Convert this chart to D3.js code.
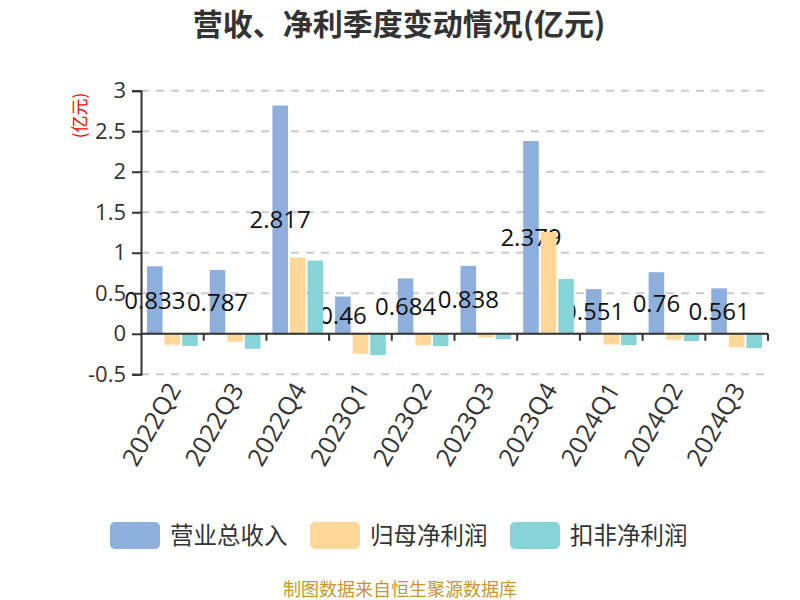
<!DOCTYPE html>
<html><head><meta charset="utf-8">
<script src="https://cdn.jsdelivr.net/npm/d3@7"></script>
<style>body{margin:0;background:#fff}svg{display:block}</style>
</head><body><svg id="c" width="800" height="600"></svg>
<script>
const categories = ["2022Q2","2022Q3","2022Q4","2023Q1","2023Q2","2023Q3","2023Q4","2024Q1","2024Q2","2024Q3"];
const revenue = [0.833,0.787,2.817,0.46,0.684,0.838,2.379,0.551,0.76,0.561];
const netProfit = [-0.135,-0.10,0.943,-0.246,-0.14,-0.045,1.256,-0.132,-0.074,-0.165];
const deductedProfit = [-0.15,-0.185,0.903,-0.263,-0.152,-0.066,0.677,-0.14,-0.09,-0.177];
const seriesNames = ["营业总收入","归母净利润","扣非净利润"];
const colors = ["#8eaedb","#ffd899","#86d4d7"];
const yTicks = [-0.5,0,0.5,1,1.5,2,2.5,3];
const titleText = "营收、净利季度变动情况(亿元)";
const unitText = "(亿元)";
const footerText = "制图数据来自恒生聚源数据库";

const seriesData = [revenue, netProfit, deductedProfit];
const svg = d3.select("#c");
const numFont = "'Open Sans','Noto Sans CJK SC',sans-serif";
const cjkFont = "'Noto Sans CJK SC','Noto Sans',sans-serif";

const gLeft = 141, gRight = 768, gTop = 90.7, gBottom = 374.3;
const x = d3.scaleBand().domain(categories).range([gLeft, gRight]);
const xs = d3.scaleBand().domain(d3.range(3)).range([0, x.bandwidth()]).paddingInner(0.114).paddingOuter(0.343);
const y = d3.scaleLinear().domain([-0.5, 3]).range([gBottom, gTop]);

// title
svg.append("text").attr("x", 399).attr("y", 35).attr("text-anchor","middle")
  .attr("font-family", cjkFont).attr("font-weight","bold").attr("font-size", 30).attr("fill","#333")
  .text(titleText);

// grid
svg.append("g").selectAll("line").data(yTicks).join("line")
  .attr("x1", gLeft).attr("x2", gRight).attr("y1", d=>y(d)).attr("y2", d=>y(d))
  .attr("stroke","#ccc").attr("stroke-width",2).attr("stroke-dasharray","8,7");

// bars (each series followed by its labels, so later series sit above earlier labels)
seriesData.forEach((vals, si) => {
  svg.append("g").attr("fill", colors[si]).selectAll("rect")
    .data(vals.map((v,ci)=>({v,ci}))).join("rect")
    .attr("x", d=>x(categories[d.ci]) + xs(si))
    .attr("width", xs.bandwidth())
    .attr("y", d=>y(Math.max(0,d.v)))
    .attr("height", d=>Math.abs(y(d.v)-y(0)));
  if (si === 0) {
    svg.append("g").selectAll("text").data(revenue).join("text")
      .attr("x",(d,i)=>x(categories[i]) + xs(0) + xs.bandwidth()/2)
      .attr("y",d=>(y(d)+y(0))/2).attr("dy","0.36em").attr("text-anchor","middle")
      .attr("font-family",numFont).attr("font-size",24).attr("fill","#111").text(d=>String(d));
  }
});

// y axis
const yAxis = d3.axisLeft(y).tickValues(yTicks).tickSize(9).tickPadding(6).tickFormat(d=>String(d));
const yg = svg.append("g").attr("transform",`translate(${gLeft},0)`).call(yAxis);
yg.select(".domain").attr("stroke","#333").attr("stroke-width",2);
yg.selectAll(".tick line").attr("stroke","#333").attr("stroke-width",2);
yg.selectAll(".tick text").attr("font-family",numFont).attr("font-size",22).attr("fill","#333");

// x axis at zero
const xAxis = d3.axisBottom(x).tickSize(7).tickFormat("");
const xg = svg.append("g").attr("transform",`translate(0,${y(0)})`).call(xAxis);
xg.select(".domain").attr("stroke","#333").attr("stroke-width",2).attr("d",`M${gLeft},0H${gRight}`);
xg.selectAll(".tick").remove();
const boundaries = categories.slice(1).map(c=>x(c)).concat([gRight]);
xg.selectAll(".bt").data(boundaries).join("line").attr("class","bt")
  .attr("x1",d=>d).attr("x2",d=>d)
  .attr("y1",0).attr("y2",7).attr("stroke","#333").attr("stroke-width",2);

// x labels
svg.append("g").selectAll("text").data(categories).join("text")
  .attr("transform", d=>`translate(${x(d)+x.bandwidth()/2+2},${385}) rotate(-60)`)
  .attr("text-anchor","end").attr("dy","0.35em")
  .attr("font-family",numFont).attr("font-size",25).attr("fill","#333").text(d=>d);

// unit label
svg.append("text").attr("transform","translate(86,115.5) rotate(-90)").attr("text-anchor","middle")
  .attr("font-family",cjkFont).attr("font-size",17).attr("fill","red").text(unitText);

// legend
const legendX = [110, 310, 510];
const lg = svg.append("g").selectAll("g").data(seriesNames).join("g")
  .attr("transform",(d,i)=>`translate(${legendX[i]},522)`);
lg.append("rect").attr("width",50).attr("height",27).attr("rx",5).attr("fill",(d,i)=>colors[i]);
lg.append("text").attr("x",60).attr("y",13.5).attr("dy","0.36em")
  .attr("font-family",cjkFont).attr("font-size",23.5).attr("fill","#333").text(d=>d);

// footer
svg.append("text").attr("x",400).attr("y",590).attr("dy","0.36em").attr("text-anchor","middle")
  .attr("font-family",cjkFont).attr("font-size",18).attr("fill","#c8962f").text(footerText);
</script></body></html>
